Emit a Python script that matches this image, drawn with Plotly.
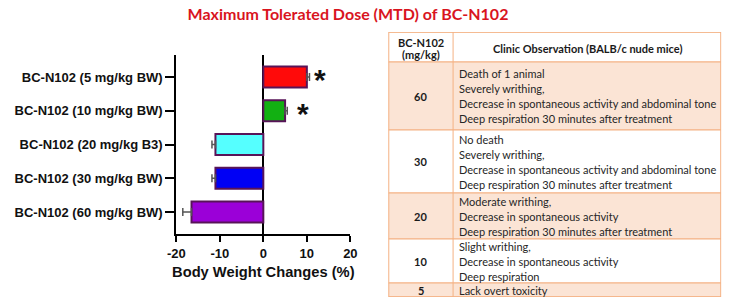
import plotly.graph_objects as go

# ---------------- data ----------------
categories = ["BC-N102 (5 mg/kg BW)", "BC-N102 (10 mg/kg BW)", "BC-N102 (20 mg/kg B3)",
              "BC-N102 (30 mg/kg BW)", "BC-N102 (60 mg/kg BW)"]
weight_change = [10.0, 5.0, -11.0, -11.0, -16.5]
error_plus = [0.6, 0.5, 0.0, 0.0, 0.0]
error_minus = [0.0, 0.0, 0.8, 0.8, 2.0]
significant = [True, True, False, False, False]
x_ticks = [-20, -10, 0, 10, 20]
x_tick_labels = ["-20", "-10", "0", "10", "20"]

table_header = [["BC-N102", "(mg/kg)"], ["Clinic Observation (BALB/c nude mice)"]]
table_doses = ["60", "30", "20", "10", "5"]
table_observations = [
    ["Death of 1 animal", "Severely writhing,", "Decrease in spontaneous activity and abdominal tone",
     "Deep respiration 30 minutes after treatment"],
    ["No death", "Severely writhing,", "Decrease in spontaneous activity and abdominal tone",
     "Deep respiration 30 minutes after treatment"],
    ["Moderate writhing,", "Decrease in spontaneous activity", "Deep respiration 30 minutes after treatment"],
    ["Slight writhing,", "Decrease in spontaneous activity", "Deep respiration"],
    ["Lack overt toxicity"],
]

# ---------------- styles ----------------
bar_colors = ["#FF0A0A", "#12B012", "#55FFFF", "#0000F5", "#9B00D8"]
edge_color = "#581458"
txt = "#111111"
peach = "#FBE4D5"
tan = "#F4B183"
star_shift = [3, 8]

# table geometry (in table-axis units = pixels)
col_widths = [66, 274]
header_height = 30
row_heights = [68, 63, 46, 44, 14]
line_step = 15
header_line_step = 11.5
row_fills = [peach, "white", peach, "white", peach]
cell_font = dict(family="Lato", size=11, color="#262626")
bold_font = dict(family="Lato", size=11, color="#1a1a1a")
dose_font = dict(family="Lato", size=11, color="#1a1a1a")

table_w = sum(col_widths)
table_h = header_height + sum(row_heights)

fig = go.Figure()

fig.add_trace(go.Bar(
    x=weight_change, y=categories, orientation="h",
    marker=dict(color=bar_colors, line=dict(color=edge_color, width=2)),
    width=0.62,
    error_x=dict(type="data", symmetric=False, array=error_plus, arrayminus=error_minus,
                 color="#555555", thickness=1.5, width=4),
    xaxis="x", yaxis="y", showlegend=False, hoverinfo="skip",
))

k = 0
for cat, v, ep, sig in zip(categories, weight_change, error_plus, significant):
    if sig:
        fig.add_annotation(x=v + ep, y=cat, text="<b>*</b>", showarrow=False, xanchor="left",
                           yanchor="middle", xshift=star_shift[k], yshift=-3, xref="x", yref="y",
                           font=dict(family="Liberation Sans", size=30, color=txt))
        k += 1

# ---------------- table drawn on its own axes ----------------
col_edges = [0, col_widths[0], table_w]
col_centers = [col_widths[0] / 2, col_widths[0] + col_widths[1] / 2]

# header
fig.add_shape(type="rect", xref="x2", yref="y2", x0=0, x1=table_w, y0=0, y1=header_height,
              fillcolor="white", line=dict(color=tan, width=1), layer="below")
for ci, lines in enumerate(table_header):
    yc = header_height / 2 + 1.5
    n = len(lines)
    for li, line in enumerate(lines):
        fig.add_annotation(xref="x2", yref="y2", x=col_centers[ci],
                           y=yc + (li - (n - 1) / 2) * header_line_step,
                           text="<b>" + line + "</b>", showarrow=False, xanchor="center",
                           yanchor="middle", font=bold_font)

top = header_height
for ri, (dose, obs) in enumerate(zip(table_doses, table_observations)):
    h = row_heights[ri]
    fig.add_shape(type="rect", xref="x2", yref="y2", x0=0, x1=table_w, y0=top, y1=top + h,
                  fillcolor=row_fills[ri], line=dict(color=tan, width=1), layer="below")
    yc = top + h / 2
    fig.add_annotation(xref="x2", yref="y2", x=col_centers[0], y=yc, text="<b>" + dose + "</b>",
                       showarrow=False, xanchor="center", yanchor="middle", font=dose_font)
    n = len(obs)
    for li, line in enumerate(obs):
        fig.add_annotation(xref="x2", yref="y2", x=col_widths[0] + 4,
                           y=yc + (li - (n - 1) / 2) * line_step, text=line,
                           showarrow=False, xanchor="left", yanchor="middle", font=cell_font)
    top += h

fig.add_shape(type="line", xref="x2", yref="y2", x0=col_edges[1], x1=col_edges[1], y0=0, y1=table_h,
              line=dict(color=tan, width=1), layer="below")
fig.add_shape(type="rect", xref="x2", yref="y2", x0=0, x1=table_w, y0=0, y1=table_h,
              fillcolor="rgba(0,0,0,0)", line=dict(color=tan, width=1.5), layer="below")

fig.update_layout(
    width=733, height=305,
    margin=dict(l=0, r=0, t=0, b=0),
    paper_bgcolor="white", plot_bgcolor="white",
    title=dict(text="<b>Maximum Tolerated Dose (MTD) of BC-N102</b>", x=348 / 733, y=1 - 14 / 305,
               xanchor="center", yanchor="middle",
               font=dict(family="Lato", size=16, color="#D9141E")),
    xaxis=dict(domain=[171 / 733, 349 / 733], range=[-20, 20], tickvals=x_ticks,
               ticktext=["<b>" + t + "</b>" for t in x_tick_labels],
               showline=True, linecolor="black", linewidth=2, ticks="outside", ticklen=6,
               tickwidth=2, tickcolor="black", showgrid=False, zeroline=True,
               zerolinecolor="black", zerolinewidth=2, anchor="y", fixedrange=True,
               tickfont=dict(family="Liberation Sans", size=13, color=txt),
               title=dict(text="<b>Body Weight Changes (%)</b>", standoff=7,
                          font=dict(family="Liberation Sans", size=14.7, color=txt))),
    yaxis=dict(domain=[1 - 234 / 305, 1 - 55 / 305], type="category",
               range=[len(categories) - 1 + 0.65, -0.65], fixedrange=True,
               showline=True, linecolor="black", linewidth=2, ticks="outside", ticklen=9,
               tickwidth=2, tickcolor="black", showgrid=False, anchor="x",
               tickfont=dict(family="Liberation Sans", size=13, color=txt),
               tickprefix="<b>", ticksuffix="</b>"),
    xaxis2=dict(domain=[388 / 733, 728 / 733], range=[0, table_w], visible=False,
                fixedrange=True, anchor="y2"),
    yaxis2=dict(domain=[1 - 297 / 305, 1 - 32 / 305], range=[table_h, 0], visible=False,
                fixedrange=True, anchor="x2"),
)

fig.write_html("out.html", config={"displayModeBar": False},
               post_script="document.body.style.margin='0px';")
